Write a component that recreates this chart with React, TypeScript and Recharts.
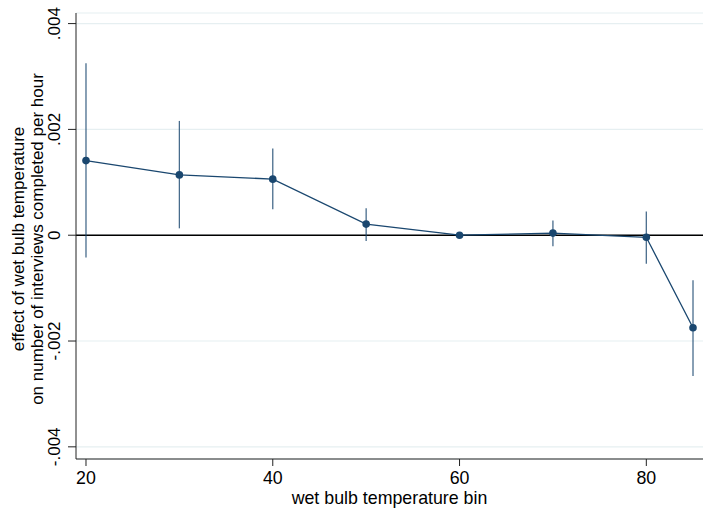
import { LineChart, Line, XAxis, YAxis, CartesianGrid, ReferenceLine, ErrorBar } from 'recharts'

// temperature bins and point estimates with 95% CI
const bins = [20, 30, 40, 50, 60, 70, 80, 85]
const effect = [0.00141, 0.00114, 0.00106, 0.00021, 0, 0.00004, -0.00004, -0.00175]
const ciLow = [-0.00042, 0.00013, 0.00049, -0.00011, 0, -0.00021, -0.00054, -0.00266]
const ciHigh = [0.00325, 0.00216, 0.00164, 0.00051, 0, 0.00028, 0.00045, -0.00085]

const xTicks = [20, 40, 60, 80]
const yTicks = [-0.004, -0.002, 0, 0.002, 0.004]

const NAVY = '#1a476f'
const FONT = '"Liberation Sans", Arial, Helvetica, sans-serif'
const FS = 17
const FS_X = 17.8

const data = bins.map((b, i) => ({
  bin: b,
  effect: effect[i],
  err: [effect[i] - ciLow[i], ciHigh[i] - effect[i]],
}))

const fmtY = (v: number) => {
  if (v === 0) return '0'
  const s = v.toFixed(3)
  return s.replace('0.', '.')
}

const YTick = ({ x, y, payload }: any) => (
  <text
    x={x - 11}
    y={y}
    transform={`rotate(-90, ${x - 11}, ${y})`}
    textAnchor="middle"
    dominantBaseline="central"
    fontFamily={FONT}
    fontSize={FS}
    fill="#000"
  >
    {fmtY(payload.value)}
  </text>
)

const YTitle = () => {
  const cy = 239
  return (
    <g fontFamily={FONT} fontSize={FS} fill="#000">
      <text x={18} y={cy} transform={`rotate(-90, 18, ${cy})`} textAnchor="middle" dominantBaseline="central">
        effect of wet bulb temperature
      </text>
      <text x={37} y={cy} transform={`rotate(-90, 37, ${cy})`} textAnchor="middle" dominantBaseline="central">
        on number of interviews completed per hour
      </text>
    </g>
  )
}

export default function App() {
  return (
    <div style={{ position: 'absolute', left: 0, top: 0, background: '#fff' }}>
      <LineChart
        width={703}
        height={508}
        data={data}
        margin={{ top: 13, right: 0, bottom: 0, left: 0 }}
      >
        <CartesianGrid vertical={false} stroke="#e6eff1" strokeWidth={1.2} />
        <XAxis
          dataKey="bin"
          type="number"
          domain={[18.93, 86.07]}
          ticks={xTicks}
          allowDataOverflow
          height={49}
          tickSize={7}
          tickMargin={5}
          stroke="#222"
          tick={{ fill: '#000', fontFamily: FONT, fontSize: FS_X }}
          label={{
            value: 'wet bulb temperature bin',
            position: 'insideBottom',
            offset: 4,
            fill: '#000',
            fontFamily: FONT,
            fontSize: FS_X,
          }}
        />
        <YAxis
          type="number"
          domain={[-0.00423, 0.0042]}
          ticks={yTicks}
          allowDataOverflow
          width={76}
          tickSize={8}
          stroke="#222"
          tick={<YTick />}
          label={<YTitle />}
        />
        <ReferenceLine y={0} stroke="#000" strokeWidth={1.6} />
        <Line
          dataKey="effect"
          stroke={NAVY}
          strokeWidth={1.3}
          dot={{ r: 3.8, fill: NAVY, stroke: NAVY, strokeWidth: 0 }}
          activeDot={false}
          isAnimationActive={false}
        >
          <ErrorBar
            dataKey="err"
            direction="y"
            width={0}
            stroke={NAVY}
            strokeWidth={1.3}
            strokeOpacity={0.8}
            isAnimationActive={false}
          />
        </Line>
      </LineChart>
    </div>
  )
}
